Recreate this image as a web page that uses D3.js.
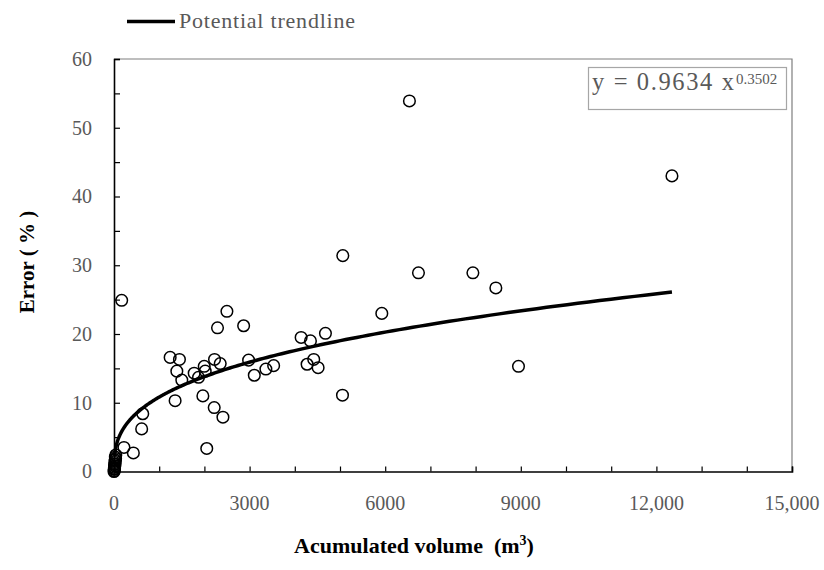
<!DOCTYPE html>
<html>
<head>
<meta charset="utf-8">
<script src="https://cdn.jsdelivr.net/npm/d3@7"></script>
<style>
  body { margin: 0; background: #fff; }
  text { font-family: "Liberation Serif", "Times New Roman", serif; }
</style>
</head>
<body>
<div id="chart"></div>
<script>
// accumulated volume (m3) and error (%) for each measurement
const volume = [0, 5, 8, 10, 12, 15, 18, 20, 22, 25, 28, 30, 35, 40,
  220, 428, 170, 612, 636, 1242, 1448, 1390, 1500, 1352, 2052, 1774, 1870,
  1996, 2018, 1966, 2224, 2350, 2290, 2498, 2217, 2410, 2868, 2978, 3104,
  3360, 3532, 4140, 4346, 4678, 4272, 4419, 4516, 5062, 5055, 5925, 6736,
  7940, 8448, 8949, 6536, 12344];
const error = [0, 0.3, 0.1, 0.6, 0.4, 1.0, 0.8, 1.3, 1.1, 1.7, 1.5, 2.1, 1.9, 2.4,
  3.5, 2.7, 24.9, 6.2, 8.4, 16.6, 16.3, 14.6, 13.3, 10.3, 3.35, 14.3, 13.7,
  15.3, 14.6, 11.0, 16.3, 15.7, 20.9, 23.3, 9.3, 7.9, 21.2, 16.2, 14.0,
  14.9, 15.4, 19.5, 19.0, 20.1, 15.6, 16.3, 15.1, 31.4, 11.1, 23.0, 28.9,
  28.9, 26.7, 15.3, 53.9, 43.0];

// power trendline y = a * x^b
const trendA = 0.9634;
const trendB = 0.3502;

const xTicks = [0, 3000, 6000, 9000, 12000, 15000];
const xTickLabels = ['0', '3000', '6000', '9000', '12,000', '15,000'];
const yTicks = [0, 10, 20, 30, 40, 50, 60];

const points = volume.map((v, i) => [v, error[i]]);

const grey = '#595959';

let svg = d3.select('#chart')
  .append('svg')
    .attr('width', 824)
    .attr('height', 570);

let appendGroupTo = (name, appendTo) => {
  return appendTo.append('g').attr('id', name);
};

let xScale = d3.scaleLinear().domain([0, 15000]).range([114, 792]);
let yScale = d3.scaleLinear().domain([0, 60]).range([471.5, 59]);

// frame (top and right)
let frame = appendGroupTo('frame', svg);
frame.append('path')
  .attr('d', `M${xScale(0)},${yScale(60)}H${xScale(15000)}V${yScale(0)}`)
  .attr('fill', 'none')
  .attr('stroke', '#7f7f7f')
  .attr('stroke-width', 1.2);

/* ---------- axes ---------- */
let axes = appendGroupTo('axes', svg);

let xAxisCont = axes.append('g')
  .attr('transform', `translate(0, ${yScale(0)})`);
xAxisCont.call(d3.axisTop(xScale)
  .tickValues(d3.range(0, 15001, 1000))
  .tickSize(5)
  .tickFormat(''));
xAxisCont.select('.domain').attr('stroke', '#000').attr('stroke-width', 1.6);
xAxisCont.selectAll('.tick line').attr('stroke', '#000').attr('stroke-width', 1.2);

xAxisCont.selectAll('.xlabel')
  .data(xTicks)
  .enter()
  .append('text')
    .attr('class', 'xlabel')
    .attr('x', d => xScale(d))
    .attr('y', 38)
    .attr('text-anchor', 'middle')
    .attr('fill', grey)
    .style('font-size', '20px')
    .text((d, i) => xTickLabels[i]);

let yAxisCont = axes.append('g')
  .attr('transform', `translate(${xScale(0)}, 0)`);
yAxisCont.call(d3.axisRight(yScale)
  .tickValues(d3.range(0, 61, 5))
  .tickSize(6)
  .tickFormat(''));
yAxisCont.select('.domain').attr('stroke', '#000').attr('stroke-width', 1.6);
yAxisCont.selectAll('.tick line').attr('stroke', '#000').attr('stroke-width', 1.2);

yAxisCont.selectAll('.ylabel')
  .data(yTicks)
  .enter()
  .append('text')
    .attr('class', 'ylabel')
    .attr('x', -22)
    .attr('y', d => yScale(d))
    .attr('dy', '0.34em')
    .attr('text-anchor', 'end')
    .attr('fill', grey)
    .style('font-size', '20px')
    .text(d => d);

// axis titles
svg.append('text')
  .attr('x', 414)
  .attr('y', 553)
  .attr('text-anchor', 'middle')
  .style('font-size', '22px')
  .style('font-weight', 'bold')
  .attr('fill', '#000')
  .html('Acumulated volume&#160;&#160;(m<tspan dy="-8" font-size="14">3</tspan><tspan dy="8">)</tspan>');

svg.append('text')
  .attr('transform', 'translate(34, 262) rotate(-90)')
  .attr('text-anchor', 'middle')
  .style('font-size', '21px')
  .style('font-weight', 'bold')
  .attr('fill', '#000')
  .text('Error ( % )');

/* ---------- data ---------- */
let dataCont = appendGroupTo('dataCont', svg);

dataCont.selectAll('circle')
  .data(points)
  .enter()
  .append('circle')
    .attr('cx', d => xScale(d[0]))
    .attr('cy', d => yScale(d[1]))
    .attr('r', 5.8)
    .attr('fill', 'none')
    .attr('stroke', '#000')
    .attr('stroke-width', 1.5);

let xMin = 12;
let xMax = d3.max(volume);
let trend = d3.range(0, 301).map(i => {
  let x = xMin * Math.pow(xMax / xMin, i / 300);
  return [x, trendA * Math.pow(x, trendB)];
});

let valueline = d3.line()
  .x(d => xScale(d[0]))
  .y(d => yScale(d[1]));

dataCont.append('path')
  .attr('d', valueline(trend))
  .attr('fill', 'none')
  .attr('stroke', '#000')
  .attr('stroke-width', 3.5);

/* ---------- legend ---------- */
let legend = appendGroupTo('legend', svg);
legend.append('line')
  .attr('x1', 127).attr('x2', 175)
  .attr('y1', 21.5).attr('y2', 21.5)
  .attr('stroke', '#000')
  .attr('stroke-width', 3.5);
legend.append('text')
  .attr('x', 179)
  .attr('y', 28)
  .attr('fill', grey)
  .style('font-size', '22px')
  .attr('textLength', 176)
  .attr('lengthAdjust', 'spacing')
  .text('Potential trendline');

/* ---------- equation box ---------- */
let eq = appendGroupTo('equation', svg);
eq.append('rect')
  .attr('x', 588.5).attr('y', 67.5)
  .attr('width', 198).attr('height', 42)
  .attr('fill', '#fff')
  .attr('stroke', '#a6a6a6')
  .attr('stroke-width', 1.2);
eq.append('text')
  .attr('x', 592)
  .attr('y', 90)
  .attr('fill', grey)
  .style('font-size', '24.5px')
  .attr('textLength', 142)
  .attr('lengthAdjust', 'spacing')
  .text(`y = ${trendA} x`);
eq.append('text')
  .attr('x', 736)
  .attr('y', 83.5)
  .attr('fill', grey)
  .style('font-size', '15px')
  .text(trendB);
</script>
</body>
</html>
